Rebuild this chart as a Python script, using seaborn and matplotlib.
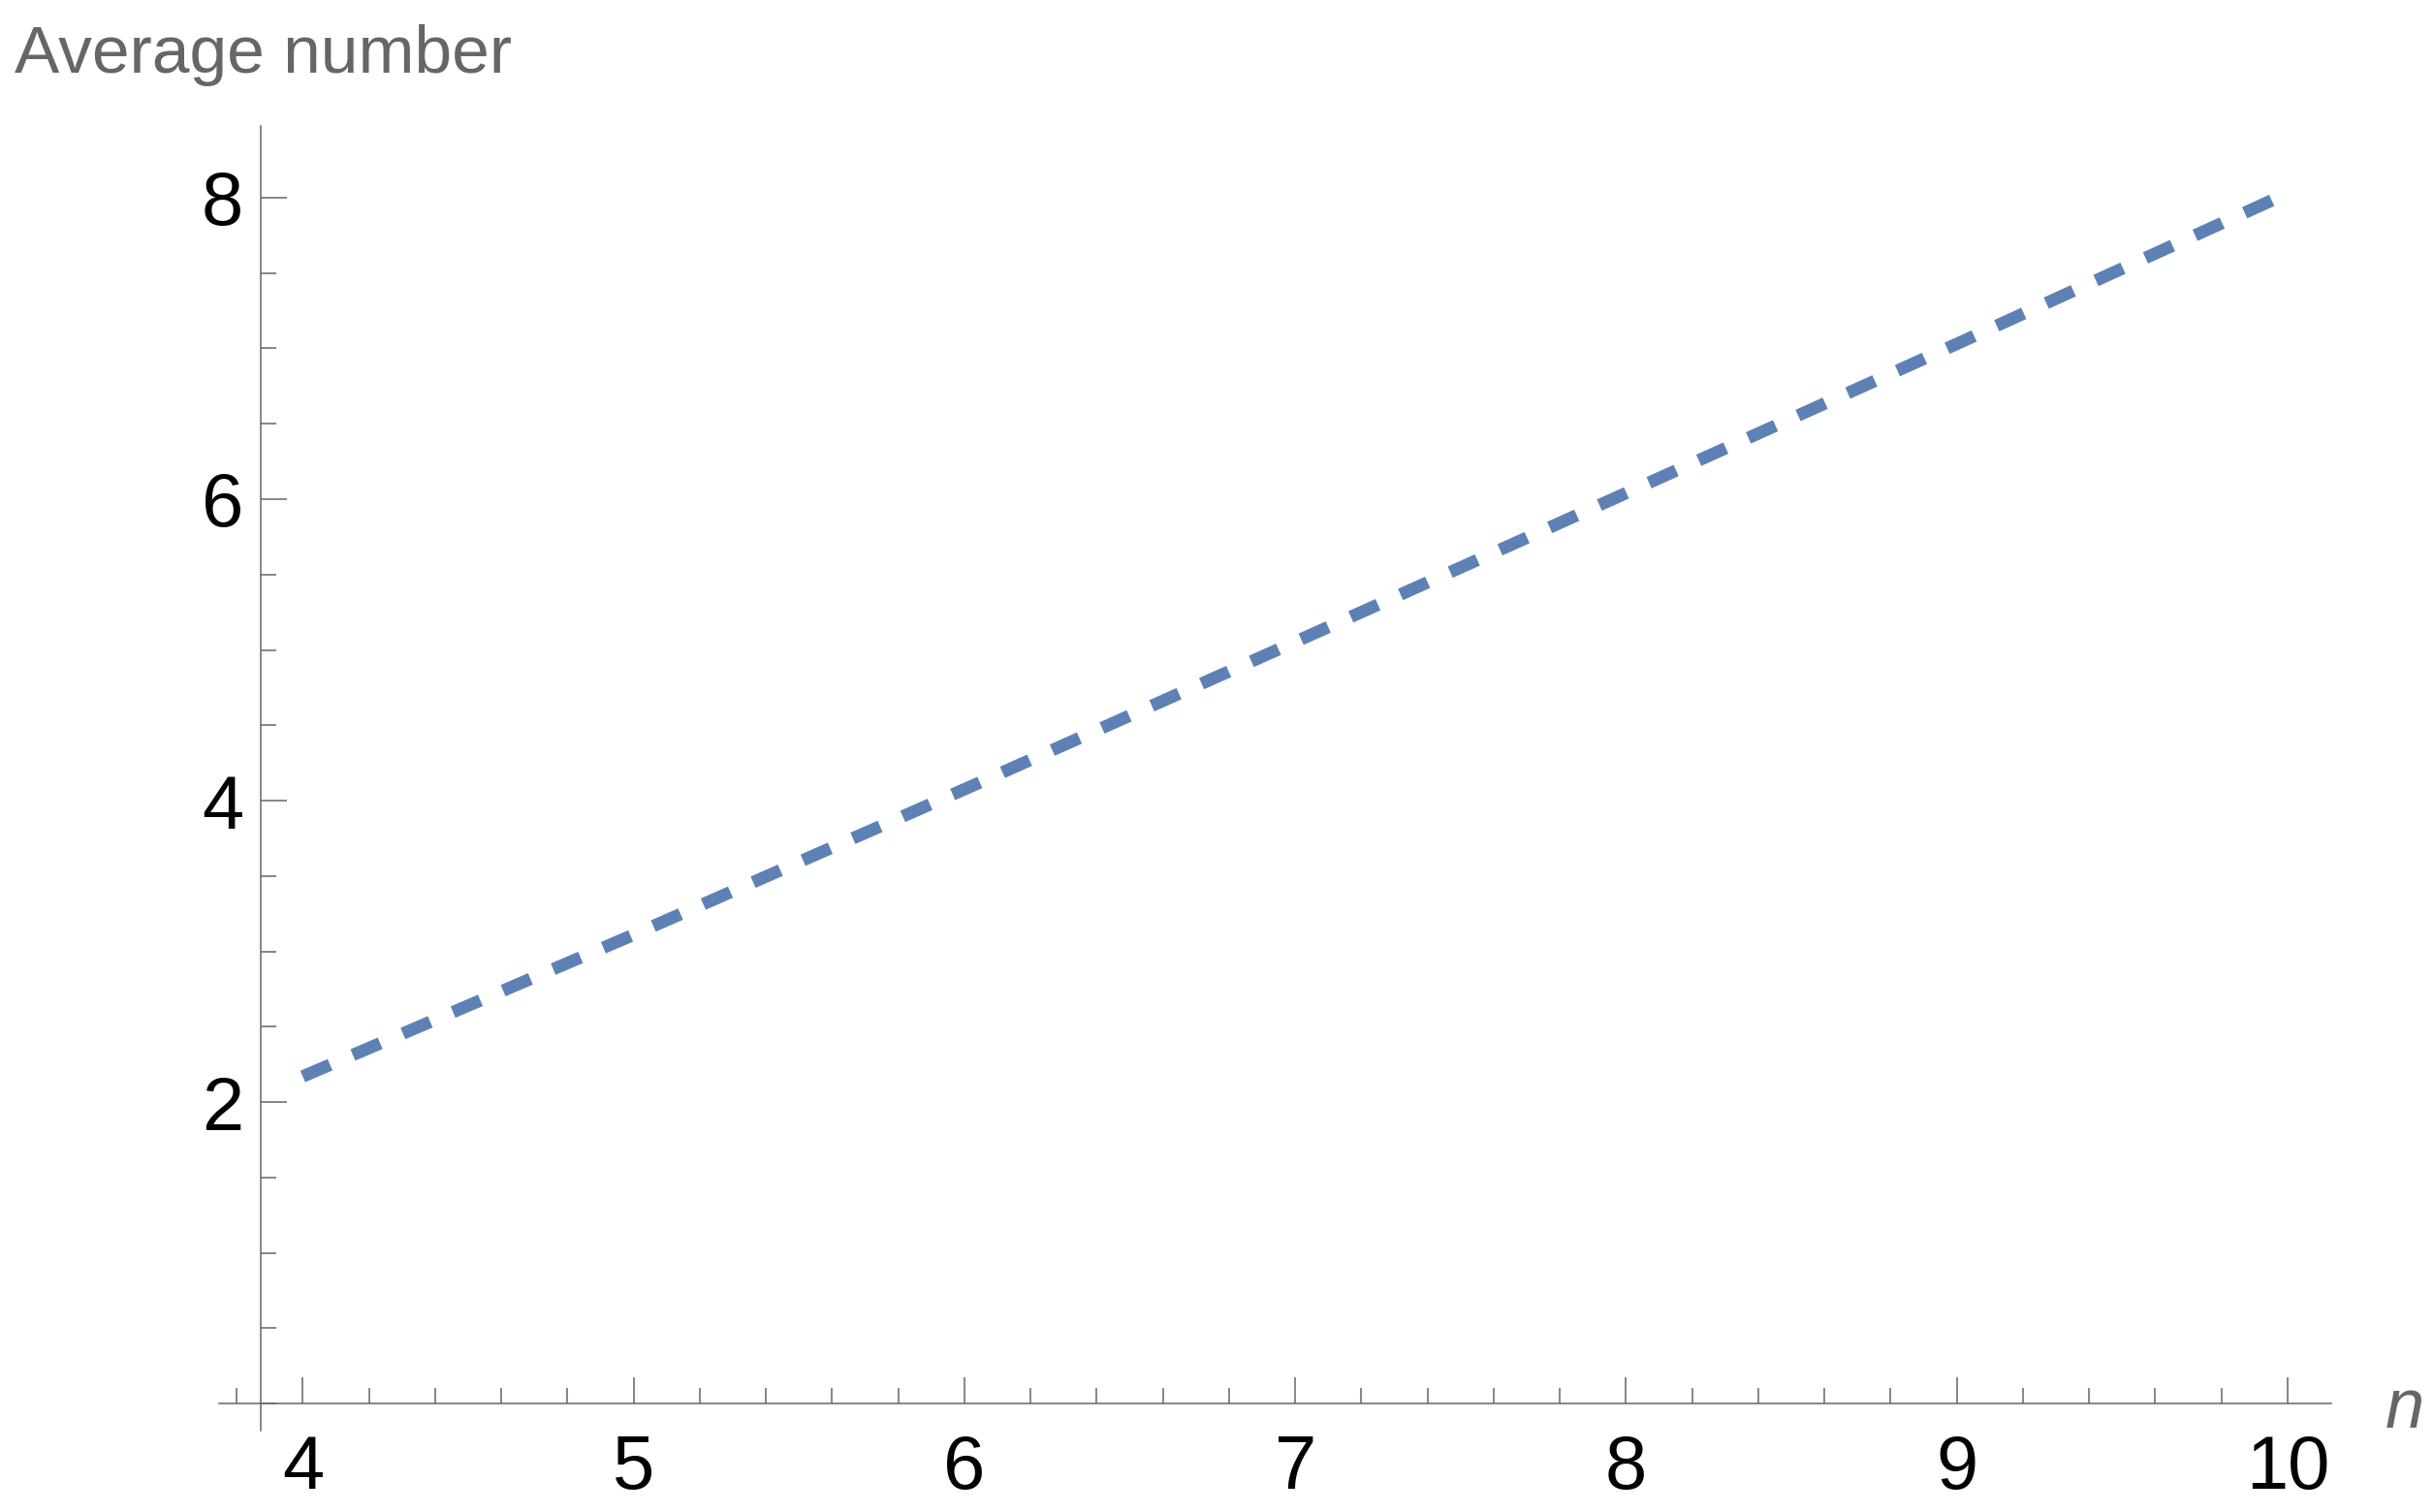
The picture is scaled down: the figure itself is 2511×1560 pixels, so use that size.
import matplotlib
matplotlib.use("Agg")
import matplotlib.pyplot as plt
from matplotlib.ticker import MultipleLocator, FixedLocator
import pandas as pd
import seaborn as sns

# values
n_values = [4, 5, 6, 7, 8, 9, 10]
avg_number = [2.17, 3.11, 4.075, 5.053, 6.04, 7.03, 8.03]
x_major = [4, 5, 6, 7, 8, 9, 10]
y_major = [2, 4, 6, 8]

line_color = "#5E81B5"
axis_color = "#666666"

sns.set_style("white")
plt.rcParams["font.family"] = ["Liberation Sans", "DejaVu Sans"]

df = pd.DataFrame({"n": n_values, "avg": avg_number})

fig = plt.figure(figsize=(25.11, 15.6), dpi=100)
ax = fig.add_axes([0.0900, 0.0538, 0.8678, 0.8629])

sns.lineplot(data=df, x="n", y="avg", ax=ax, color=line_color, linewidth=9.2)
ax.lines[0].set_dashes([2.4, 2.0])
ax.lines[0].set_dash_capstyle("butt")

ax.set_xlim(3.747, 10.132)
ax.set_ylim(-0.18, 8.476)

for side in ["top", "right"]:
    ax.spines[side].set_visible(False)
ax.spines["left"].set_position(("data", 3.874))
ax.spines["bottom"].set_position(("data", 0))
for side in ["left", "bottom"]:
    ax.spines[side].set_color(axis_color)
    ax.spines[side].set_linewidth(1.1)

ax.xaxis.set_major_locator(FixedLocator(x_major))
ax.xaxis.set_minor_locator(MultipleLocator(0.2))
ax.yaxis.set_major_locator(FixedLocator(y_major))
ax.yaxis.set_minor_locator(MultipleLocator(0.5))

ax.tick_params(which="both", direction="in", color=axis_color, width=1.1,
               bottom=True, left=True, top=False, right=False)
ax.tick_params(which="major", length=19.5, labelsize=56, labelcolor="black")
ax.tick_params(which="minor", length=11.5)
ax.tick_params(axis="x", which="major", pad=22)
ax.tick_params(axis="y", which="major", pad=13)

ax.set_xlabel("")
ax.set_ylabel("")

fig.text(15 / 2511, 1 - 75 / 1560, "Average number", fontsize=50,
         color=axis_color, ha="left", va="baseline")
fig.text(2461 / 2511, 1 - 1473 / 1560, "n", fontsize=52, style="italic",
         color=axis_color, ha="left", va="baseline")

fig.savefig("out.png", dpi=100)
